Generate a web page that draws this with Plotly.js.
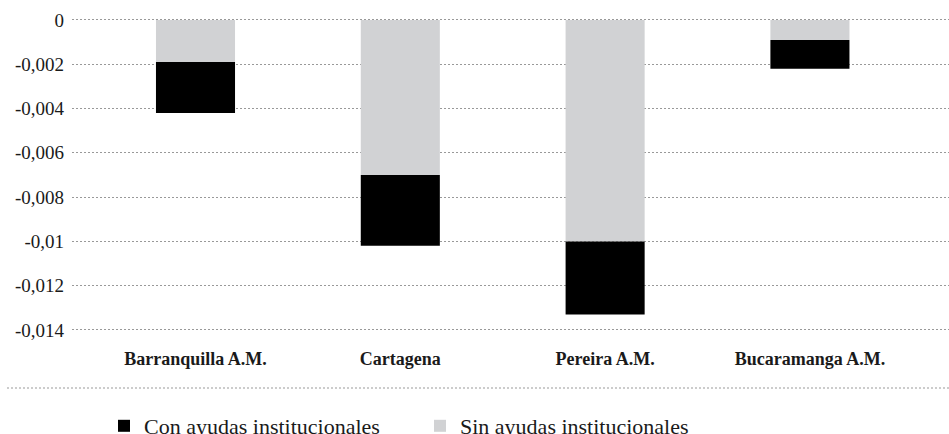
<!DOCTYPE html>
<html>
<head>
<meta charset="utf-8">
<script src="https://cdn.plot.ly/plotly-3.0.1.min.js"></script>
<style>html,body{margin:0;padding:0;background:#fff;}#chart{width:949px;height:434px;}</style>
</head>
<body>
<div id="chart"></div>
<script>
const categories = ["Barranquilla A.M.", "Cartagena", "Pereira A.M.", "Bucaramanga A.M."];
const sinAyudas = [-0.0019, -0.0070, -0.0100, -0.0009];
const conAyudas = [-0.0023, -0.0032, -0.0033, -0.0013];
const tickVals = [0, -0.002, -0.004, -0.006, -0.008, -0.01, -0.012, -0.014];
const tickText = ["0", "-0,002", "-0,004", "-0,006", "-0,008", "-0,01", "-0,012", "-0,014"];
const seriesNames = ["Sin ayudas institucionales", "Con ayudas institucionales"];

const FONT = "Liberation Serif, Times New Roman, serif";
const W = 949, H = 434, ML = 72, MT = 11, MB = 93;
const PW = W - ML, PH = H - MT - MB, PB = H - MB;

const traces = [
  {type: "bar", name: seriesNames[0], x: categories, y: sinAyudas,
   marker: {color: "#d1d2d4", line: {width: 0}}, hoverinfo: "y"},
  {type: "bar", name: seriesNames[1], x: categories, y: conAyudas,
   marker: {color: "#000000", line: {width: 0}}, hoverinfo: "y"}
];

const layout = {
  width: W, height: H,
  margin: {l: ML, r: 0, t: MT, b: MB, autoexpand: false},
  paper_bgcolor: "#ffffff", plot_bgcolor: "#ffffff",
  font: {family: FONT, color: "#1a1a1a"},
  barmode: "relative",
  bargap: 0.614,
  showlegend: true,
  legend: {orientation: "h", traceorder: "reversed", x: (104 - ML) / PW, xanchor: "left",
           y: -(426 - PB) / PH, yanchor: "middle",
           font: {family: FONT, size: 22, color: "#1a1a1a"},
           entrywidth: 271, entrywidthmode: "pixels", bgcolor: "rgba(0,0,0,0)"},
  xaxis: {type: "category", range: [-0.603, 3.679], showgrid: false, zeroline: false,
          showline: false, ticks: "", ticklabelstandoff: 5,
          tickfont: {family: FONT, size: 18, color: "#1a1a1a", weight: "bold"}, fixedrange: true},
  yaxis: {range: [-0.014499, 0.000406], tickvals: tickVals, ticktext: tickText,
          showgrid: true, gridcolor: "#999999", griddash: "2px,2px", gridwidth: 1,
          zeroline: false, showline: false, ticks: "", ticklabelstandoff: 7,
          tickfont: {family: FONT, size: 19, color: "#1a1a1a"}, fixedrange: true},
  shapes: [{type: "line", xref: "paper", yref: "paper", x0: (7 - ML) / PW, x1: 1,
            y0: -(388 - PB) / PH, y1: -(388 - PB) / PH,
            line: {color: "#999999", width: 1, dash: "2px,2px"}}]
};

Plotly.newPlot("chart", traces, layout, {displayModeBar: false, staticPlot: true});
</script>
</body>
</html>
